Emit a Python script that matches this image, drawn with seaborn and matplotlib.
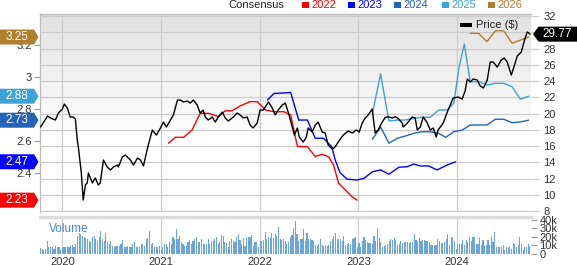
import numpy as np
import pandas as pd
import matplotlib
matplotlib.use("Agg")
import matplotlib.pyplot as plt
import matplotlib.dates as mdates
import matplotlib.transforms as mtrans
from matplotlib.patches import Polygon, Rectangle
import seaborn as sns

# ---------------- data ----------------
price_dates = ["2019-10-12","2019-11-07","2019-11-18","2019-12-06","2019-12-17","2020-01-01","2020-01-08","2020-01-19","2020-01-30","2020-02-10",
    "2020-02-18","2020-02-25","2020-02-29","2020-03-11","2020-03-18","2020-03-26","2020-04-02","2020-04-06","2020-04-21","2020-05-02",
    "2020-05-13","2020-05-20","2020-06-01","2020-06-15","2020-06-27","2020-07-08","2020-07-23","2020-07-26","2020-08-10","2020-08-21",
    "2020-09-01","2020-09-09","2020-09-20","2020-10-05","2020-10-16","2020-10-27","2020-11-11","2020-11-29","2020-12-14","2020-12-29",
    "2021-01-09","2021-01-20","2021-02-04","2021-02-15","2021-03-02","2021-03-13","2021-03-24","2021-04-07","2021-04-18","2021-04-30",
    "2021-05-14","2021-05-25","2021-06-05","2021-06-13","2021-06-24","2021-07-09","2021-07-20","2021-07-31","2021-08-15","2021-08-26",
    "2021-09-06","2021-09-25","2021-10-09","2021-10-20","2021-11-01","2021-11-15","2021-11-26","2021-12-07","2021-12-22","2022-01-02",
    "2022-01-14","2022-02-02","2022-02-16","2022-02-27","2022-03-10","2022-03-25","2022-04-05","2022-04-16","2022-05-01","2022-05-09",
    "2022-05-20","2022-05-27","2022-06-11","2022-06-22","2022-06-29","2022-07-14","2022-07-25","2022-08-05","2022-08-20","2022-08-31",
    "2022-09-11","2022-09-26","2022-10-07","2022-10-18","2022-11-06","2022-11-24","2022-12-09","2022-12-24","2023-01-04","2023-01-15",
    "2023-01-26","2023-02-06","2023-02-21","2023-03-04","2023-03-15","2023-03-30","2023-04-10","2023-04-21","2023-05-06","2023-05-17",
    "2023-05-28","2023-06-12","2023-06-16","2023-07-01","2023-07-19","2023-07-30","2023-08-07","2023-08-18","2023-08-29","2023-09-13",
    "2023-09-24","2023-10-05","2023-10-16","2023-10-23","2023-11-11","2023-11-26","2023-12-18","2024-01-05","2024-01-20","2024-01-31",
    "2024-02-08","2024-02-19","2024-03-01","2024-03-16","2024-03-27","2024-04-08","2024-04-22","2024-05-03","2024-05-14","2024-05-29",
    "2024-06-13","2024-06-24","2024-07-05","2024-07-20","2024-07-31","2024-08-11","2024-08-26","2024-09-06","2024-09-17","2024-09-28"]
price_values = [18.34,19.69,19.45,19.2,20.06,20.55,21.17,20.68,19.57,19.57,
    19.32,16.74,15.88,12.68,9.35,11.2,11.45,12.68,11.45,12.06,
    11.2,11.45,14.28,13.42,13.05,13.42,13.66,13.42,14.65,14.89,
    14.52,14.28,13.66,14.52,14.28,13.54,15.75,17.97,17.35,18.22,
    18.95,18.34,19.2,19.82,21.66,21.66,21.42,21.54,21.29,21.66,
    21.05,20.06,20.43,19.57,19.2,19.57,18.95,19.57,20.18,19.45,
    19.08,19.57,20.06,19.82,19.45,19.57,18.58,18.22,18.83,20.43,
    20.43,21.42,20.68,19.82,20.43,21.05,21.29,20.18,18.34,17.35,
    18.22,17.11,16.49,17.11,18.22,17.72,18.58,18.95,17.72,17.6,
    16.12,15.63,15.88,16.49,17.35,17.85,17.6,17.97,17.72,18.83,
    19.45,19.82,20.55,17.6,17.97,18.95,19.5,19.6,19.45,19.6,
    19.4,18.83,18.34,18.83,19.57,19.45,17.97,18.34,19.57,18.83,
    17.97,18.22,17.11,17.97,18.83,20.18,21.91,22.03,21.78,22.77,
    24.25,23.88,24.25,24.12,23.38,23.14,24.12,26.34,26.34,25.72,
    26.58,26.83,26.34,24.74,25.85,27.08,27.57,28.92,30.03,29.77]

eps22_dates = ["2021-01-28","2021-02-22","2021-03-25","2021-04-25","2021-05-25","2021-06-25","2021-08-01","2021-08-26","2021-09-20","2021-10-20",
    "2021-11-26","2021-12-22","2022-01-22","2022-02-22","2022-03-31","2022-04-25","2022-05-20","2022-06-26","2022-07-25","2022-08-19",
    "2022-09-12","2022-10-01","2022-10-19","2022-11-13","2022-12-08","2022-12-27"]
eps22_values = [2.586,2.623,2.623,2.669,2.773,2.773,2.752,2.789,2.789,2.819,
    2.846,2.846,2.794,2.783,2.783,2.763,2.566,2.564,2.503,2.517,
    2.502,2.45,2.338,2.294,2.252,2.23]

eps23_dates = ["2022-01-29","2022-02-22","2022-03-31","2022-04-25","2022-05-25","2022-06-26","2022-07-25","2022-08-25","2022-09-25","2022-10-07",
    "2022-10-25","2022-11-20","2022-12-27","2023-01-22","2023-02-22","2023-03-24","2023-04-24","2023-05-31","2023-06-30","2023-07-25",
    "2023-08-18","2023-09-18","2023-10-19","2023-11-26","2023-12-27"]
eps23_values = [2.856,2.897,2.9,2.904,2.731,2.731,2.617,2.617,2.5625,2.481,
    2.402,2.361,2.356,2.367,2.408,2.419,2.392,2.436,2.439,2.456,
    2.444,2.444,2.419,2.45,2.47]

eps24_dates = ["2023-02-22","2023-03-24","2023-04-24","2023-05-25","2023-06-24","2023-07-25","2023-08-25","2023-09-24","2023-10-25","2023-11-20",
    "2023-12-20","2024-01-21","2024-02-19","2024-03-21","2024-04-21","2024-05-22","2024-06-22","2024-07-23","2024-08-23","2024-09-22"]
eps24_values = [2.611,2.6875,2.586,2.617,2.631,2.648,2.658,2.658,2.648,2.623,
    2.658,2.669,2.7,2.7,2.7,2.736,2.736,2.714,2.719,2.73]

eps25_dates = ["2023-02-22","2023-03-24","2023-04-24","2023-05-25","2023-06-24","2023-07-25","2023-08-25","2023-09-24","2023-10-25","2023-11-26",
    "2023-12-20","2024-01-09","2024-01-28","2024-02-19","2024-03-21","2024-04-21","2024-05-22","2024-06-22","2024-07-23","2024-08-23",
    "2024-09-22"]
eps25_values = [2.773,3.019,2.725,2.731,2.731,2.742,2.748,2.748,2.794,2.794,
    2.836,3.064,3.206,2.971,2.971,2.95,2.961,2.961,2.939,2.861,
    2.88]

eps26_dates = ["2024-02-19","2024-03-21","2024-04-21","2024-05-22","2024-06-22","2024-07-23","2024-08-23","2024-09-22"]
eps26_values = [3.273,3.273,3.221,3.289,3.289,3.211,3.231,3.25]

volume_k = [7,6,4.7,6,15.7,7.8,7.8,8.6,6,9.8,8.6,7.8,4.7,7.8,7.8,8.6,8.6,8.6,9.8,11,8.6,11.8,21.6,24.3,23.5,21.6,19.6,18.8,17.6,15.7,
    13.7,19.6,21.6,17.6,15.7,19.6,27.4,17.6,15.7,24.3,13.7,11.8,15.7,9.8,8.6,9.8,9.8,9.8,11.8,16.5,7.8,7.8,9.8,7.8,8.6,11.8,13.7,8.6,8.6,7.8,
    11.8,11.8,9.8,17.6,18.8,27.4,11.8,12.5,7.8,7.8,8.6,9.8,4.7,8.6,11.8,11.8,7.8,13.7,11.8,19.6,17.6,29.4,17.6,21.6,13.7,11.8,9.8,9.8,13.7,16.5,
    11.8,15.7,17.6,19.6,13.7,13.7,17.6,11.8,11.8,11.8,
    17.6,11.8,13.7,15.7,17.6,20.4,11.8,13.7,22.7,21.6,13.7,12.5,8.6,14.9,17.6,15.7,13.7,20.4,23.5,16.5,11.8,18.8,9.8,19.6,19.6,19.6,22.7,9.8,13.7,13.7,
    7.8,15.7,15.7,16.5,25.5,17.6,19.6,18.8,24.3,18.8,23.5,21.6,31.4,17.6,16.5,17.6,15.7,11.8,13.7,20.4,22.7,30.6,39.2,23.5,14.9,17.6,17.6,29.4,15.7,24.3,
    17.6,17.6,16.5,15.7,11,9.8,11.8,17.6,11,9.8,11,9.8,11,15.7,17.6,21.6,24.3,17.6,17.6,17.6,15.7,21.6,11,11.8,12.5,11.8,17.6,18.8,20.4,7.8,
    12.5,8.6,15.7,20.4,16.5,13.7,12.5,
    12.5,11.8,21.6,15.7,30.6,18.8,13.7,8.6,9.8,11,11.8,15.7,17.6,16.5,18.8,16.5,11,11.8,14.9,12.5,13.7,13.7,13.7,12.5,13.7,13.7,23.5,16.5,15.7,18.8,
    15.7,16.5,16.5,15.7,14.9,13.7,11,11,11,11,17.6,14.9,12.5,12.5,13.7,17.6,23.5,11,20.4,18.8,14.9,5.9,11.8,11.8,11.8,16.5,11,16.5,13.7,19.6,
    15.7,19.6,19.6,11.8,11.8,18.8,11,16.5,9.8,11,16.5,11,19.6,13.7,25.5,8.6,8.6,8.6,7.8,11,4.7,7.8,8.6,7.8,5.9,12.5,11.8,7.8,11,19.6,
    11.8,4.7,7.8,8.6,11.8,9.8]
volume_start, volume_end = "2019-10-12", "2024-09-27"

years = ["2020", "2021", "2022", "2023", "2024"]
series_labels = ["2022", "2023", "2024", "2025", "2026"]
price_ticks = [8, 10, 12, 14, 16, 18, 20, 22, 24, 26, 28, 30, 32]
eps_ticks = [2.4, 2.6, 2.8, 3.0, 3.2]
vol_ticks = [0, 10, 20, 30, 40]

# ---------------- style ----------------
sns.set_theme(style="white")
plt.rcParams["font.family"] = ["Liberation Sans", "DejaVu Sans"]

colors = {"2022": "#ff0000", "2023": "#0000ff", "2024": "#2563b4",
          "2025": "#3da2d6", "2026": "#b17d2e"}
GRID = "#cccccc"
TXT = "#333333"

W, H = 577, 265
fig = plt.figure(figsize=(W / 100, H / 100), dpi=100)
fig.patch.set_facecolor("white")

def fx(px):
    return px / W

def fy(py):
    return 1 - py / H

L, R, T, B = 40, 531, 14, 212
VT, VB = 217, 254
pos_main = [fx(L), fy(B), fx(R) - fx(L), fy(T) - fy(B)]
pos_vol = [fx(L), fy(VB), fx(R) - fx(L), fy(VT) - fy(VB)]

xlim = (pd.Timestamp("2019-10-10"), pd.Timestamp("2024-10-01"))
xnum = mdates.date2num(xlim)
price_lim = (7.88, 32.25)
eps_lim = (2.156, 3.394)
year_dates = [pd.Timestamp(y + "-01-01") for y in years]

# background + grid axes
bg = fig.add_axes(pos_main, zorder=1)
n = 300
t = np.linspace(0, 1, n)
shade = np.clip(0.885 + 0.115 * t / 0.62, 0, 1)
img = np.repeat(shade[:, None, None], 3, axis=2)
bg.imshow(img, aspect="auto", origin="upper",
          extent=[xnum[0], xnum[1], price_lim[0], price_lim[1]], zorder=0)
bg.set_xlim(xnum)
bg.set_ylim(price_lim)
bg.set_xticks(mdates.date2num(year_dates))
bg.set_yticks(price_ticks)
bg.grid(True, color=GRID, linewidth=0.9)
bg.set_axisbelow(False)
bg.tick_params(length=0, labelleft=False, labelbottom=False)
for s in ["right", "bottom"]:
    bg.spines[s].set_visible(False)
for s in ["left", "top"]:
    bg.spines[s].set_color("#bbbbbb")
    bg.spines[s].set_linewidth(0.9)

# EPS axis (left)
ax_eps = fig.add_axes(pos_main, zorder=2)
ax_eps.set_facecolor("none")
eps_data = [(eps22_dates, eps22_values), (eps23_dates, eps23_values),
            (eps24_dates, eps24_values), (eps25_dates, eps25_values),
            (eps26_dates, eps26_values)]
for lab, (d, v) in zip(series_labels, eps_data):
    df = pd.DataFrame({"date": pd.to_datetime(d), "eps": v})
    sns.lineplot(data=df, x="date", y="eps", ax=ax_eps, color=colors[lab],
                 linewidth=1.0, sort=False, estimator=None)
ax_eps.set_xlim(xlim)
ax_eps.set_ylim(eps_lim)
ax_eps.set_yticks(eps_ticks)
ax_eps.yaxis.set_major_formatter(plt.FuncFormatter(lambda v, p: f"{v:g}"))
ax_eps.set_xticks([])
ax_eps.set_xlabel("")
ax_eps.set_ylabel("")
ax_eps.tick_params(axis="y", left=True, length=4, width=0.8, color="#999999",
                   labelsize=8, labelcolor=TXT, pad=2)
for s in ax_eps.spines.values():
    s.set_visible(False)

# Price axis (right)
ax_p = ax_eps.twinx()
ax_p.set_zorder(3)
ax_p.patch.set_visible(False)
dfp = pd.DataFrame({"date": pd.to_datetime(price_dates), "price": price_values})
sns.lineplot(data=dfp, x="date", y="price", ax=ax_p, color="black",
             linewidth=1.0, sort=False, estimator=None)
ax_p.set_xlim(xlim)
ax_p.set_ylim(price_lim)
ax_p.set_yticks(price_ticks)
ax_p.set_ylabel("")
ax_p.set_xlabel("")
ax_p.tick_params(axis="y", right=True, length=6, width=0.9, color=GRID,
                 labelsize=8, labelcolor=TXT, pad=3)
for s in ax_p.spines.values():
    s.set_visible(False)

# Volume panel
ax_v = fig.add_axes(pos_vol, zorder=1)
vdates = pd.date_range(volume_start, volume_end, periods=len(volume_k))
ax_v.bar(vdates, volume_k, width=4.2, color="#6aa6dc", linewidth=0, zorder=2)
ax_v.set_xlim(xlim)
ax_v.set_ylim(0, 43.5)
ax_v.set_xticks(year_dates)
ax_v.set_xticklabels(years)
ax_v.yaxis.tick_right()
ax_v.set_yticks(vol_ticks)
ax_v.set_yticklabels(["0" if v == 0 else f"{v}k" for v in vol_ticks])
ax_v.grid(True, axis="x", color=GRID, linewidth=0.9, zorder=0)
ax_v.grid(False, axis="y")
ax_v.set_axisbelow(True)
ax_v.tick_params(axis="x", length=0, labelsize=8, labelcolor=TXT, pad=2)
ax_v.tick_params(axis="y", right=True, length=4, width=0.8, color="#999999",
                 labelsize=8, labelcolor=TXT, pad=2)
ax_v.set_facecolor("white")
for s in ["left", "right", "bottom"]:
    ax_v.spines[s].set_visible(False)
ax_v.spines["top"].set_color("#dddddd")
ax_v.spines["top"].set_linewidth(2.5)
fig.text(fx(49), fy(229), "Volume", fontsize=8.5, color="#3d8bd0",
         va="center", ha="left", zorder=5)

# Top consensus legend
fig.text(fx(228), fy(5.5), "Consensus", fontsize=8, color="#222222",
         va="center", ha="left")
leg_x = [302, 348, 394, 442, 488]
for x0, lab in zip(leg_x, series_labels):
    fig.add_artist(Rectangle((fx(x0), fy(8.2)), 7 / W, 6.5 / H,
                             transform=fig.transFigure, color=colors[lab],
                             linewidth=0))
    fig.text(fx(x0 + 9), fy(5.5), lab, fontsize=8, color=colors[lab],
             va="center", ha="left")

# Price legend
fig.add_artist(Rectangle((fx(460), fy(27)), 12 / W, 4 / H,
                         transform=fig.transFigure, color="black", linewidth=0,
                         zorder=6))
fig.text(fx(476), fy(25), "Price ($)", fontsize=8, color="#222222",
         va="center", ha="left", zorder=6)

# Badges
ident = mtrans.IdentityTransform()

def left_badge(vals, color):
    v = vals[-1]
    y = ax_eps.transData.transform((mdates.date2num(xlim[0]), v))[1]
    pts = [(0, y - 7.5), (34, y - 7.5), (38.5, y), (34, y + 7.5), (0, y + 7.5)]
    fig.add_artist(Polygon(pts, closed=True, transform=ident, facecolor=color,
                           edgecolor="none", zorder=10))
    fig.text(16.5, y, f"{v:.2f}", transform=ident, fontsize=8.5, color="white",
             ha="center", va="center", zorder=11)

for lab, (d, v) in zip(series_labels, eps_data):
    left_badge(v, colors[lab])

yp = ax_p.transData.transform((mdates.date2num(xlim[1]), price_values[-1]))[1]
pts = [(533, yp), (538.5, yp + 7.5), (577, yp + 7.5), (577, yp - 7.5), (538.5, yp - 7.5)]
fig.add_artist(Polygon(pts, closed=True, transform=ident, facecolor="black",
                       edgecolor="none", zorder=10))
fig.text(557, yp, f"{price_values[-1]:.2f}", transform=ident, fontsize=8.5,
         color="white", ha="center", va="center", zorder=11)

fig.savefig("out.png", dpi=100)
